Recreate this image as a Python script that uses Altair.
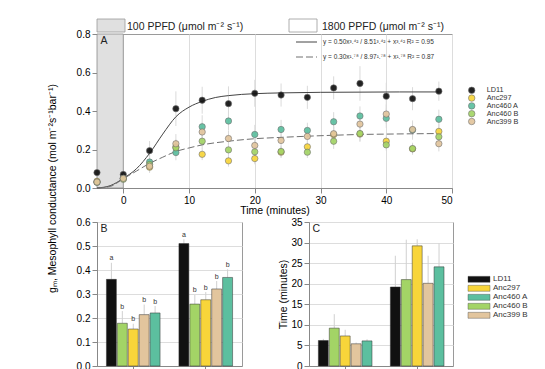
import altair as alt
import pandas as pd

FONT = "Liberation Sans"

# ---------------- data ----------------
series = ["LD11", "Anc297", "Anc460 A", "Anc460 B", "Anc399 B"]
series_colors = ["#111111", "#f8d53a", "#5cbf9f", "#a3d466", "#e2c59d"]
bar_order = ["LD11", "Anc460 B", "Anc297", "Anc399 B", "Anc460 A"]

# Panel A: time course of gm
time_min = [-4, 0, 4, 8, 12, 16, 20, 24, 28, 32, 36, 40, 44, 48]
gm_LD11 = [0.080, 0.070, 0.194, 0.412, 0.456, 0.438, 0.492, 0.483, 0.471, 0.520, 0.543, 0.477, 0.464, 0.503]
gm_Anc297 = [0.035, 0.050, 0.108, 0.213, 0.175, 0.141, 0.153, 0.186, 0.214, 0.277, 0.280, 0.243, 0.203, 0.294]
gm_Anc460A = [0.030, 0.050, 0.135, 0.184, 0.318, 0.348, 0.278, 0.304, 0.299, 0.344, 0.374, 0.362, 0.301, 0.357]
gm_Anc460B = [0.030, 0.045, 0.122, 0.209, 0.243, 0.198, 0.188, 0.190, 0.186, 0.243, 0.283, 0.224, 0.205, 0.266]
gm_Anc399B = [0.031, 0.050, 0.113, 0.230, 0.291, 0.257, 0.221, 0.247, 0.268, 0.282, 0.332, 0.384, 0.304, 0.230]
err_LD11 = [0.010, 0.010, 0.050, 0.090, 0.070, 0.090, 0.070, 0.060, 0.060, 0.060, 0.090, 0.070, 0.060, 0.050]
err_Anc297 = [0.010, 0.010, 0.030, 0.040, 0.030, 0.030, 0.030, 0.030, 0.040, 0.040, 0.040, 0.030, 0.030, 0.040]
err_Anc460A = [0.010, 0.010, 0.040, 0.040, 0.060, 0.050, 0.050, 0.050, 0.040, 0.050, 0.050, 0.050, 0.050, 0.050]
err_Anc460B = [0.010, 0.010, 0.030, 0.040, 0.040, 0.040, 0.030, 0.030, 0.030, 0.040, 0.040, 0.030, 0.030, 0.040]
err_Anc399B = [0.010, 0.010, 0.030, 0.050, 0.050, 0.040, 0.040, 0.040, 0.040, 0.040, 0.050, 0.050, 0.040, 0.040]

# fitted curves
fit_solid_x = [-4, -2, 0, 2, 4, 6, 8, 10, 12, 14, 16, 20, 24, 30, 36, 42, 48]
fit_solid_y = [0.0, 0.012, 0.05, 0.10, 0.18, 0.28, 0.37, 0.42, 0.45, 0.47, 0.48, 0.49, 0.494, 0.497, 0.498, 0.499, 0.499]
fit_dash_x = [-4, -2, 0, 2, 4, 6, 8, 10, 12, 16, 20, 24, 28, 32, 36, 40, 48]
fit_dash_y = [0.0, 0.008, 0.048, 0.088, 0.128, 0.16, 0.19, 0.208, 0.224, 0.243, 0.256, 0.263, 0.269, 0.274, 0.278, 0.28, 0.283]

low_light_start = [-4]
low_light_end = [0]

eq_solid = "y = 0.50x³.⁴² / 8.51³.⁴² + x³.⁴²  R² = 0.95"
eq_dash = "y = 0.30x¹.⁷⁸ / 8.97¹.⁷⁸ + x¹.⁷⁸  R² = 0.87"
header_low = "100 PPFD (μmol m⁻² s⁻¹)"
header_high = "1800 PPFD (μmol m⁻² s⁻¹)"

# Panels B and C (values in legend order: LD11, Anc297, Anc460 A, Anc460 B, Anc399 B)
groups = ["100 PPFD", "1800 PPFD"]
gm_low = [0.361, 0.154, 0.221, 0.178, 0.214]
gm_high = [0.510, 0.276, 0.369, 0.258, 0.321]
gm_err_low = [0.069, 0.022, 0.029, 0.051, 0.042]
gm_err_high = [0.018, 0.032, 0.034, 0.038, 0.033]
letters_low = ["a", "b", "b", "b", "b"]
letters_high = ["a", "b", "b", "b", "b"]

time_low = [6.2, 7.3, 6.1, 9.2, 5.4]
time_high = [19.2, 29.2, 24.1, 21.0, 20.1]
time_err_low = [0.4, 1.5, 0.4, 3.4, 0.3]
time_err_high = [7.6, 1.6, 5.7, 9.7, 6.7]

# ---------------- tables ----------------
gm_series = [gm_LD11, gm_Anc297, gm_Anc460A, gm_Anc460B, gm_Anc399B]
err_series = [err_LD11, err_Anc297, err_Anc460A, err_Anc460B, err_Anc399B]
rows = []
for s, vals, errs in zip(series, gm_series, err_series):
    for t, v, e in zip(time_min, vals, errs):
        rows.append({"series": s, "time": t, "gm": v, "lo": v - e, "hi": v + e})
pts = pd.DataFrame(rows)
fit1 = pd.DataFrame({"time": fit_solid_x, "gm": fit_solid_y})
fit2 = pd.DataFrame({"time": fit_dash_x, "gm": fit_dash_y})
shade = pd.DataFrame({"time": low_light_start, "time_end": low_light_end})
legend_df = pd.DataFrame({"series": series})

brows = []
for g, vals, errs, lets, tv, te in [
    (groups[0], gm_low, gm_err_low, letters_low, time_low, time_err_low),
    (groups[1], gm_high, gm_err_high, letters_high, time_high, time_err_high),
]:
    for s, v, e, l, t, tt in zip(series, vals, errs, lets, tv, te):
        brows.append({"group": g, "series": s, "gm": v, "gm_top": v + e, "letter": l,
                      "tm": t, "tm_top": t + tt})
bars = pd.DataFrame(brows)

color_scale = alt.Scale(domain=series, range=series_colors)
TXT = "#222222"
FRAME = alt.ViewBackground(stroke="#9a9a9a", strokeWidth=1)
NOFRAME = alt.ViewBackground(strokeWidth=0)

# ---------------- panel A ----------------
WA, HA = 355, 154
xsc = alt.Scale(domain=[-4, 50], nice=False)
x_axis = alt.Axis(values=[0, 10, 20, 30, 40, 50], title="Time (minutes)", titlePadding=0,
                  titleFontWeight=400, titleFontSize=10.5)
y_axis = alt.Axis(values=[0, 0.2, 0.4, 0.6, 0.8], format=".1f",
                  title="gₘ, Mesophyll conductance (mol m⁻²s⁻¹bar⁻¹)",
                  titleX=-45, titleY=154, titleAngle=270, titleAlign="center",
                  titleBaseline="middle", titleFontWeight=400, titleFontSize=10.5)


def XA(field):
    return alt.X(field, scale=xsc, axis=x_axis)


def YA(field, axis=None):
    # every layer uses the same fixed gm scale; only one layer draws the axis
    return alt.Y(field, scale=alt.Scale(domain=[0, 0.8], nice=False), axis=axis)


shade_l = alt.Chart(shade).mark_rect(fill="#e0e0e0", stroke="#8a8a8a", strokeWidth=0.8).encode(
    x=XA("time:Q"), x2="time_end:Q",
    y=alt.Y(datum=0, scale=alt.Scale(domain=[0, 0.8], nice=False), axis=y_axis),
    y2=alt.datum(0.8))

err_l = alt.Chart(pts).mark_rule(color="#dadada", strokeWidth=1).encode(
    x=XA("time:Q"), y=YA("lo:Q"), y2="hi:Q")

fit1_l = alt.Chart(fit1).mark_line(color="#444444", strokeWidth=1, interpolate="monotone").encode(
    x=XA("time:Q"), y=YA("gm:Q"))
fit2_l = alt.Chart(fit2).mark_line(color="#707070", strokeWidth=1, strokeDash=[7, 3],
                                   interpolate="monotone").encode(x=XA("time:Q"), y=YA("gm:Q"))

pts_l = alt.Chart(pts).mark_circle(size=40, stroke="#666666", strokeWidth=0.6, opacity=0.92).encode(
    x=XA("time:Q"), y=YA("gm:Q"),
    color=alt.Color("series:N", scale=color_scale, sort=series, legend=None))

one = pd.DataFrame({"k": [0]})
hdr_box1 = alt.Chart(one).mark_rect(fill="#e0e0e0", stroke="#999999", strokeWidth=0.8).encode(
    x=alt.value(0), x2=alt.value(28), y=alt.value(-15), y2=alt.value(-2))
hdr_box2 = alt.Chart(one).mark_rect(fill="white", stroke="#999999", strokeWidth=0.8).encode(
    x=alt.value(192), x2=alt.value(220), y=alt.value(-15), y2=alt.value(-2))
hdr_t1 = alt.Chart(pd.DataFrame({"t": [header_low]})).mark_text(
    align="left", baseline="middle", fontSize=10.5, font=FONT, fill=TXT).encode(
    x=alt.value(30), y=alt.value(-7), text="t:N")
hdr_t2 = alt.Chart(pd.DataFrame({"t": [header_high]})).mark_text(
    align="left", baseline="middle", fontSize=10.5, font=FONT, fill=TXT).encode(
    x=alt.value(225), y=alt.value(-7), text="t:N")
eq_line1 = alt.Chart(one).mark_rule(color="#444444", strokeWidth=1).encode(
    x=alt.value(199), x2=alt.value(220), y=alt.value(8))
eq_line2 = alt.Chart(one).mark_rule(color="#707070", strokeWidth=1, strokeDash=[7, 3]).encode(
    x=alt.value(199), x2=alt.value(220), y=alt.value(23))
eq_t1 = alt.Chart(pd.DataFrame({"t": [eq_solid]})).mark_text(
    align="left", baseline="middle", fontSize=6.5, font=FONT, fill="#333333").encode(
    x=alt.value(226), y=alt.value(8), text="t:N")
eq_t2 = alt.Chart(pd.DataFrame({"t": [eq_dash]})).mark_text(
    align="left", baseline="middle", fontSize=6.5, font=FONT, fill="#333333").encode(
    x=alt.value(226), y=alt.value(23), text="t:N")


def panel_letter(s):
    return alt.Chart(pd.DataFrame({"t": [s]})).mark_text(
        align="left", baseline="middle", fontSize=10.5, font=FONT, fill=TXT).encode(
        x=alt.value(3.5), y=alt.value(7), text="t:N")


# legend for A (circles), drawn from the series list, to the right of the plot
legA_y = alt.Y("series:N", sort=series, axis=None,
               scale=alt.Scale(type="point", padding=0, range=[56.3, 87.5]))
legA_sym = alt.Chart(legend_df).mark_circle(size=42, stroke="#666666", strokeWidth=0.6,
                                            opacity=0.92).encode(
    x=alt.value(WA + 19.7), y=legA_y,
    color=alt.Color("series:N", scale=color_scale, sort=series, legend=None))
legA_txt = alt.Chart(legend_df).mark_text(align="left", baseline="middle", fontSize=7.3,
                                          font=FONT, fill="#333333").encode(
    x=alt.value(WA + 34.7), y=legA_y, text="series:N")

A = alt.layer(shade_l, err_l, fit1_l, fit2_l, pts_l, hdr_box1, hdr_box2, hdr_t1, hdr_t2,
              eq_line1, eq_line2, eq_t1, eq_t2, panel_letter("A"), legA_sym, legA_txt
              ).resolve_scale(y="independent").properties(width=WA, height=HA, view=FRAME)

# ---------------- panels B and C ----------------
WB, HB = 145, 144
WC = 144
xband = alt.Scale(paddingInner=0.26, paddingOuter=0.13)
xb_axis = alt.Axis(labels=False, title=None, ticks=True, tickSize=3)
xoff = alt.XOffset("series:N", sort=bar_order, scale=alt.Scale(paddingInner=0.09))


def bar_panel(field, top, dom, vals, fmt, title, letters, lbl, width):
    if title:
        yax = alt.Axis(values=vals, format=fmt, title=title, titleX=-26, titleY=72,
                       titleAngle=270, titleAlign="center", titleBaseline="middle",
                       titleFontWeight=400, titleFontSize=10.5)
    else:
        yax = alt.Axis(values=vals, format=fmt, title=None)
    ysc_ = alt.Scale(domain=dom, nice=False)
    xenc = alt.X("group:N", sort=groups, scale=xband, axis=xb_axis)
    b = alt.Chart(bars).mark_bar(stroke="#333333", strokeWidth=0.5).encode(
        x=xenc, xOffset=xoff,
        y=alt.Y(f"{field}:Q", scale=ysc_, axis=yax),
        color=alt.Color("series:N", scale=color_scale, sort=series, legend=None))
    e = alt.Chart(bars).mark_rule(color="#d0d0d0", strokeWidth=1).encode(
        x=xenc, xOffset=xoff, y=alt.Y(f"{field}:Q", scale=ysc_, axis=yax), y2=f"{top}:Q")
    layers = [e, b]
    if letters:
        t = alt.Chart(bars).mark_text(baseline="bottom", dy=-1.5, fontSize=7, font=FONT,
                                      fill="#333333").encode(
            x=xenc, xOffset=xoff, y=alt.Y(f"{top}:Q", scale=ysc_, axis=yax), text="letter:N")
        layers.append(t)
    layers.append(panel_letter(lbl))
    return alt.layer(*layers).properties(width=width, height=HB, view=FRAME)


B = bar_panel("gm", "gm_top", [0, 0.6], [0, 0.1, 0.2, 0.3, 0.4, 0.5, 0.6], ".1f", None,
              True, "B", WB)
C = bar_panel("tm", "tm_top", [0, 35], [0, 5, 10, 15, 20, 25, 30, 35], "d", "Time (minutes)",
              False, "C", WC)

# legend for C (bar swatches), drawn from the series list
legC_y = alt.Y("series:N", sort=series, axis=None,
               scale=alt.Scale(type="point", padding=0, range=[57.3, 93.3]))
legC_sym = alt.Chart(legend_df).mark_point(shape="M-1,-0.27H1V0.27H-1Z", size=484, filled=True,
                                           opacity=1, stroke="#444444", strokeWidth=0.4).encode(
    x=alt.value(11), y=legC_y,
    color=alt.Color("series:N", scale=color_scale, sort=series, legend=None))
legC_txt = alt.Chart(legend_df).mark_text(align="left", baseline="middle", fontSize=8,
                                          font=FONT, fill="#333333").encode(
    x=alt.value(25), y=legC_y, text="series:N")
LegC = alt.layer(legC_sym, legC_txt).properties(width=62, height=100, view=NOFRAME)

# empty spacer between B and C
spacer = alt.Chart(one).mark_point(opacity=0).encode(
    x=alt.value(0), y=alt.value(0)).properties(width=37, height=10, view=NOFRAME)

bottom = alt.hconcat(B, spacer, C, LegC, spacing=15, bounds="flush")

chart = alt.vconcat(A, bottom, spacing=34, bounds="flush").properties(
    padding={"left": 38, "top": 10, "right": 5, "bottom": 5}
).configure_view(stroke=None).configure_axis(
    labelFont=FONT, labelFontSize=8, labelColor="#444", tickColor="#9a9a9a",
    domainColor="#9a9a9a", tickSize=3, labelPadding=2, grid=False,
    titleFont=FONT, titleFontSize=10.5, titleFontWeight=400, titleColor="#222"
).configure(background="white")

chart.save("out.html", embed_options={"renderer": "svg", "actions": False})
